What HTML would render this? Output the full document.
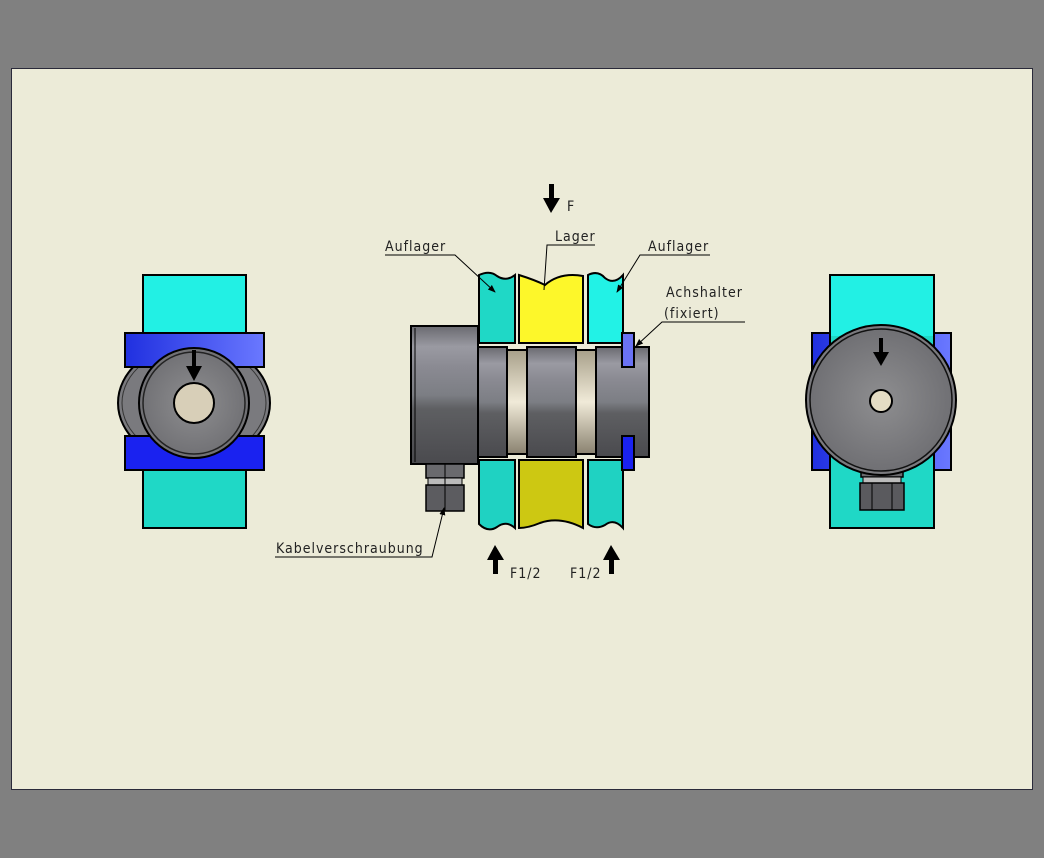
<!DOCTYPE html>
<html><head><meta charset="utf-8"><style>
html,body{margin:0;padding:0;background:#808080;width:1044px;height:858px;overflow:hidden}
svg{display:block}
text{font-family:"DejaVu Sans Condensed","Liberation Sans Narrow","Liberation Sans",sans-serif;font-size:14px;fill:#222;letter-spacing:1px}
</style></head><body>
<svg width="1044" height="858" viewBox="0 0 1044 858" xmlns="http://www.w3.org/2000/svg">
<defs>
<linearGradient id="metal" x1="0" y1="0" x2="0" y2="1">
<stop offset="0" stop-color="#6a6a70"/><stop offset="0.15" stop-color="#9a9aa2"/><stop offset="0.3" stop-color="#8a8a92"/><stop offset="0.5" stop-color="#7c7e84"/><stop offset="0.6" stop-color="#5e5f62"/><stop offset="1" stop-color="#4a4a4e"/></linearGradient>
<linearGradient id="ring" x1="0" y1="0" x2="0" y2="1">
<stop offset="0" stop-color="#a8a08a"/><stop offset="0.5" stop-color="#f0ead8"/><stop offset="1" stop-color="#8a8270"/></linearGradient>
<linearGradient id="cyanT" x1="0" y1="0" x2="1" y2="1"><stop offset="0" stop-color="#20d8c8"/><stop offset="1" stop-color="#22f4e8"/></linearGradient>
<linearGradient id="blueG" x1="0" y1="0" x2="1" y2="0"><stop offset="0" stop-color="#2030e0"/><stop offset="1" stop-color="#6a78ff"/></linearGradient>
<radialGradient id="disc" cx="0.5" cy="0.5" r="0.5"><stop offset="0" stop-color="#8e8e90"/><stop offset="1" stop-color="#707074"/></radialGradient>
<marker id="ah" markerWidth="8" markerHeight="8" refX="7" refY="4" orient="auto" markerUnits="userSpaceOnUse"><path d="M0,1 L8,4 L0,7 z" fill="#000"/></marker>
</defs>
<rect x="11.5" y="68.5" width="1021" height="721" fill="#ecebd8" stroke="#2a2a3a" stroke-width="1"/>

<!-- LEFT VIEW -->
<rect x="143" y="275" width="103" height="253" fill="#1fd8c6" stroke="#000" stroke-width="2"/>
<rect x="143" y="275" width="103" height="60" fill="#22f0e4"/>
<rect x="143" y="275" width="103" height="253" fill="none" stroke="#000" stroke-width="2"/>
<ellipse cx="194" cy="403" rx="76" ry="60" fill="#7a7a7e" stroke="#000" stroke-width="2"/>
<ellipse cx="194" cy="403" rx="72" ry="56" fill="none" stroke="#333" stroke-width="1"/>
<rect x="125" y="333" width="139" height="34" fill="url(#blueG)" stroke="#000" stroke-width="2"/>
<rect x="125" y="436" width="139" height="34" fill="#1a22f0" stroke="#000" stroke-width="2"/>
<circle cx="194" cy="403" r="55" fill="url(#disc)" stroke="#000" stroke-width="2"/>
<circle cx="194" cy="403" r="51" fill="none" stroke="#222" stroke-width="1.5"/>
<circle cx="194" cy="403" r="20" fill="#d8cfb8" stroke="#000" stroke-width="2"/>
<rect x="192" y="350" width="4" height="18" fill="#000"/>
<path d="M186,366 L202,366 L194,381 z" fill="#000"/>

<!-- RIGHT VIEW -->
<rect x="812" y="333" width="139" height="137" fill="url(#blueG)" stroke="#000" stroke-width="2"/>
<rect x="830" y="275" width="104" height="253" fill="#1fd8c6" stroke="#000" stroke-width="2"/>
<rect x="831" y="276" width="102" height="60" fill="#22f0e4"/>
<rect x="861" y="463" width="42" height="14" fill="#6a6a6e" stroke="#000" stroke-width="1.5"/>
<rect x="863" y="477" width="38" height="6" fill="#bbb" stroke="#000" stroke-width="1"/>
<rect x="860" y="483" width="44" height="27" fill="#5a5a5e" stroke="#000" stroke-width="1.5"/>
<line x1="872" y1="483" x2="872" y2="510" stroke="#000"/>
<line x1="892" y1="483" x2="892" y2="510" stroke="#000"/>
<circle cx="881" cy="400" r="75" fill="#7a7a7e" stroke="#000" stroke-width="2"/>
<circle cx="881" cy="400" r="71" fill="url(#disc)" stroke="#111" stroke-width="1.5"/>
<circle cx="881" cy="401" r="11" fill="#e4dcc4" stroke="#000" stroke-width="2"/>
<rect x="879" y="338" width="4" height="16" fill="#000"/>
<path d="M873,352 L889,352 L881,366 z" fill="#000"/>

<!-- MIDDLE VIEW -->
<g stroke="#000" stroke-width="2">
<path d="M479,275 Q490,270 497,276 Q506,282 515,275 L515,343 L479,343 z" fill="#1fd8c6"/>
<path d="M519,275 Q535,280 545,285 Q560,272 583,276 L583,343 L519,343 z" fill="#fdf72a"/>
<path d="M588,275 Q598,270 605,278 Q614,285 623,275 L623,343 L588,343 z" fill="#22f2e6"/>
<path d="M479,460 L515,460 L515,528 Q506,520 497,527 Q488,533 479,524 z" fill="#1fd2c2"/>
<path d="M519,460 L583,460 L583,528 Q560,516 540,523 Q528,528 519,528 z" fill="#cdc812"/>
<path d="M588,460 L623,460 L623,528 Q614,518 605,525 Q596,530 588,524 z" fill="#1fd2c2"/>
<rect x="411" y="326" width="67" height="138" fill="url(#metal)"/>
<rect x="478" y="347" width="29" height="110" fill="url(#metal)"/>
<rect x="507" y="350" width="20" height="104" fill="url(#ring)"/>
<rect x="527" y="347" width="49" height="110" fill="url(#metal)"/>
<rect x="576" y="350" width="20" height="104" fill="url(#ring)"/>
<rect x="596" y="347" width="53" height="110" fill="url(#metal)"/>
<rect x="622" y="333" width="12" height="34" fill="#6a72f4"/>
<rect x="622" y="436" width="12" height="34" fill="#1a22f0"/>
<rect x="426" y="464" width="38" height="14" fill="#6a6a6e" stroke-width="1.5"/>
<rect x="428" y="478" width="34" height="7" fill="#bbb" stroke-width="1"/>
<rect x="426" y="485" width="38" height="26" fill="#5c5c60" stroke-width="1.5"/>
</g>
<line x1="415" y1="328" x2="415" y2="462" stroke="#000" stroke-width="1"/>
<line x1="445" y1="464" x2="445" y2="511" stroke="#000" stroke-width="1"/>

<!-- Arrows -->
<rect x="549" y="184" width="5" height="16" fill="#000"/>
<path d="M543,198 L560,198 L551,213 z" fill="#000"/>
<text x="567" y="211">F</text>
<rect x="493" y="558" width="5" height="16" fill="#000"/>
<path d="M487,560 L504,560 L495,545 z" fill="#000"/>
<text x="510" y="578">F1/2</text>
<rect x="609" y="558" width="5" height="16" fill="#000"/>
<path d="M603,560 L620,560 L611,545 z" fill="#000"/>
<text x="570" y="578">F1/2</text>

<!-- Labels -->
<g stroke="#000" stroke-width="1" fill="none">
<path d="M385,255 L455,255 L495,292" marker-end="url(#ah)"/>
<path d="M595,245 L547,245 L544,290"/>
<path d="M710,255 L640,255 L617,292" marker-end="url(#ah)"/>
<path d="M745,322 L662,322 L636,346" marker-end="url(#ah)"/>
<path d="M275,557 L432,557 L444,508" marker-end="url(#ah)"/>
</g>
<text x="385" y="251">Auflager</text>
<text x="555" y="241">Lager</text>
<text x="648" y="251">Auflager</text>
<text x="666" y="297">Achshalter</text>
<text x="664" y="318">(fixiert)</text>
<text x="276" y="553">Kabelverschraubung</text>
</svg>
</body></html>
